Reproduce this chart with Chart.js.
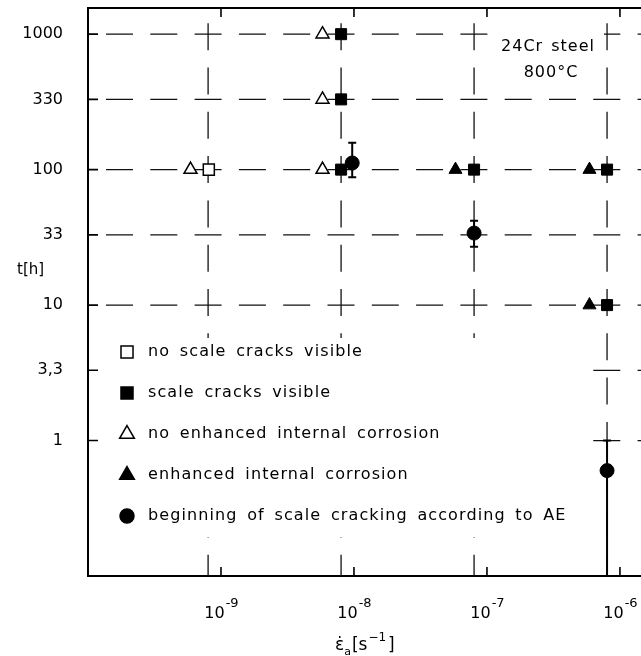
<!DOCTYPE html>
<html>
<head>
<meta charset="utf-8">
<title>24Cr steel 800°C - scale cracking</title>
<script src="https://cdn.jsdelivr.net/npm/chart.js@4.4.0/dist/chart.umd.min.js"></script>
<style>
    html, body { margin: 0; padding: 0; background: #fff; }
    #chart { display: block; }
</style>
</head>
<body>
<canvas id="chart" width="641" height="656"></canvas>
<script>
    // values: strain rate [1/s] and time [h]
    var openSquareX = [8.1e-10];
    var openSquareY = [100];
    var fullSquareX = [8e-9, 8e-9, 8e-9, 8e-8, 8e-7, 8e-7];
    var fullSquareY = [1000, 330, 100, 100, 100, 10];
    var openTriX = [5.9e-10, 5.8e-9, 5.8e-9, 5.8e-9];
    var openTriY = [100, 1000, 330, 100];
    var fullTriX = [5.8e-8, 5.9e-7, 5.9e-7];
    var fullTriY = [100, 100, 10];
    var aeX = [9.7e-9, 8e-8, 8e-7];
    var aeY = [112, 34, 0.6];
    var aeLow = [88, 27, 0.1];
    var aeHigh = [158, 42, 1];

    var yTicks = [1, 3.3, 10, 33, 100, 330, 1000];
    var yTickLabels = ['1', '3,3', '10', '33', '100', '330', '1000'];
    var xTicks = [1e-9, 1e-8, 1e-7, 1e-6];
    var xTickExp = ['-9', '-8', '-7', '-6'];
    var xGrid = [8e-10, 8e-9, 8e-8, 8e-7];
    var yGrid = [1000, 330, 100, 33, 10, 3.3, 1];

    var legendLabels = [
        'no scale cracks visible',
        'scale cracks visible',
        'no enhanced internal corrosion',
        'enhanced internal corrosion',
        'beginning of scale cracking according to AE'
    ];
    var legendStyles = ['rect', 'rect', 'triangle', 'triangle', 'circle'];
    var legendFilled = [false, true, false, true, true];

    function pts(xs, ys) {
        return xs.map(function (x, i) { return { x: x, y: ys[i] }; });
    }

    function drawMark(ctx, style, filled, x, y, r) {
        ctx.beginPath();
        if (style === 'rect') {
            var s = r * Math.SQRT1_2;
            ctx.rect(x - s, y - s, 2 * s, 2 * s);
        } else if (style === 'triangle') {
            ctx.moveTo(x, y - r);
            ctx.lineTo(x + 0.866 * r, y + 0.5 * r);
            ctx.lineTo(x - 0.866 * r, y + 0.5 * r);
            ctx.closePath();
        } else {
            ctx.arc(x, y, r, 0, Math.PI * 2);
        }
        ctx.fillStyle = filled ? '#000' : '#fff';
        ctx.fill();
        ctx.stroke();
    }

    var paperPlugin = {
        id: 'paper',
        beforeDatasetsDraw: function (chart) {
            var ctx = chart.ctx, a = chart.chartArea;
            var xs = chart.scales.x, ys = chart.scales.y;
            ctx.save();
            ctx.strokeStyle = '#111';
            ctx.lineWidth = 1.3;

            // dashed grid, dashes centred on the crossings
            var P = 44.3, D = 27;
            ctx.setLineDash([D, P - D]);
            var s0 = xs.getPixelForValue(xGrid[0]) - D / 2 - a.left;
            ctx.lineDashOffset = P - (((s0 % P) + P) % P);
            yGrid.forEach(function (v) {
                var py = ys.getPixelForValue(v);
                ctx.beginPath();
                ctx.moveTo(a.left, py);
                ctx.lineTo(a.right, py);
                ctx.stroke();
            });
            var t0 = ys.getPixelForValue(100) - D / 2 - a.top;
            ctx.lineDashOffset = P - (((t0 % P) + P) % P);
            xGrid.forEach(function (v) {
                var px = xs.getPixelForValue(v);
                ctx.beginPath();
                ctx.moveTo(px, a.top);
                ctx.lineTo(px, a.bottom);
                ctx.stroke();
            });
            ctx.setLineDash([]);

            // white boxes behind legend and label
            ctx.fillStyle = '#fff';
            ctx.fillRect(a.left + 1.5, 338, 578 - a.left - 1.5, 537 - 338);
            ctx.fillRect(488, 27, 116, 62);

            ctx.fillStyle = '#000';
            ctx.font = '16px "DejaVu Sans"';
            ctx.letterSpacing = '1px';
            ctx.wordSpacing = '2px';
            ctx.textAlign = 'center';
            ctx.textBaseline = 'middle';
            ctx.fillText('24Cr steel', 548, 47);
            ctx.fillText('800°C', 551, 73);

            // legend
            ctx.textAlign = 'left';
            ctx.letterSpacing = '1.1px';
            ctx.wordSpacing = '3.5px';
            ctx.lineWidth = 1.5;
            ctx.strokeStyle = '#000';
            legendLabels.forEach(function (txt, i) {
                var ly = 352 + i * 41;
                drawMark(ctx, legendStyles[i], legendFilled[i], 127, ly, legendStyles[i] === 'circle' ? 7 : 8.5);
                ctx.fillStyle = '#000';
                ctx.fillText(txt, 148, ly);
            });
            ctx.letterSpacing = '0px';
            ctx.wordSpacing = '0px';

            // error bars of the AE points
            ctx.lineWidth = 2;
            aeX.forEach(function (v, i) {
                var px = xs.getPixelForValue(v);
                var top = ys.getPixelForValue(aeHigh[i]);
                var bot = ys.getPixelForValue(aeLow[i]);
                ctx.beginPath();
                ctx.moveTo(px, top);
                ctx.lineTo(px, bot);
                ctx.moveTo(px - 4, top);
                ctx.lineTo(px + 4, top);
                if (aeLow[i] > ys.min) {
                    ctx.moveTo(px - 4, bot);
                    ctx.lineTo(px + 4, bot);
                }
                ctx.stroke();
            });
            ctx.restore();
        },
        afterDraw: function (chart) {
            var ctx = chart.ctx, a = chart.chartArea;
            var xs = chart.scales.x, ys = chart.scales.y;
            ctx.save();
            ctx.strokeStyle = '#000';

            // top frame line
            ctx.lineWidth = 2;
            ctx.beginPath();
            ctx.moveTo(a.left - 1, a.top);
            ctx.lineTo(a.right, a.top);
            ctx.stroke();

            ctx.lineWidth = 1.6;
            ctx.beginPath();
            xTicks.forEach(function (v) {
                var px = xs.getPixelForValue(v);
                ctx.moveTo(px, a.bottom);
                ctx.lineTo(px, a.bottom - 9);
                ctx.moveTo(px, a.top);
                ctx.lineTo(px, a.top + 9);
            });
            yTicks.forEach(function (v) {
                var py = ys.getPixelForValue(v);
                ctx.moveTo(a.left, py);
                ctx.lineTo(a.left + 10, py);
            });
            ctx.stroke();

            // x tick labels 10^n
            ctx.fillStyle = '#000';
            ctx.textBaseline = 'alphabetic';
            ctx.textAlign = 'left';
            xTicks.forEach(function (v, i) {
                var px = xs.getPixelForValue(v);
                ctx.font = '16px "DejaVu Sans"';
                var w1 = ctx.measureText('10').width;
                ctx.font = '13px "DejaVu Sans"';
                var w2 = ctx.measureText(xTickExp[i]).width;
                var x0 = px - (w1 + w2) / 2;
                ctx.font = '16px "DejaVu Sans"';
                ctx.fillText('10', x0, 618);
                ctx.font = '13px "DejaVu Sans"';
                ctx.fillText(xTickExp[i], x0 + w1 + 1, 607);
            });

            // axis titles
            ctx.font = '15px "DejaVu Sans"';
            ctx.textBaseline = 'middle';
            ctx.fillText('t[h]', 17, 270);

            ctx.textBaseline = 'alphabetic';
            var x = 335;
            ctx.font = '17px "DejaVu Sans"';
            ctx.fillText('\u03B5\u0307', x, 650);
            x += ctx.measureText('\u03B5').width;
            ctx.font = '11px "DejaVu Sans"';
            ctx.fillText('a', x, 655);
            x += ctx.measureText('a').width + 1;
            ctx.font = '17px "DejaVu Sans"';
            ctx.fillText('[s', x, 650);
            x += ctx.measureText('[s').width + 1;
            ctx.font = '12px "DejaVu Sans"';
            ctx.fillText('\u22121', x, 641);
            x += ctx.measureText('\u22121').width + 2;
            ctx.font = '17px "DejaVu Sans"';
            ctx.fillText(']', x, 650);
            ctx.restore();
        }
    };

    Chart.defaults.font.family = '"DejaVu Sans"';
    Chart.defaults.color = '#000';

    var xMin = 1e-10, xMax = 1.44e-6;
    var yMin = 0.1, yMax = 1560;

    new Chart(document.getElementById('chart'), {
        type: 'scatter',
        data: {
            datasets: [
                { label: legendLabels[4], data: pts(aeX, aeY), pointStyle: 'circle', pointRadius: 7,
                  backgroundColor: '#000', borderColor: '#000', borderWidth: 1 },
                { label: legendLabels[0], data: pts(openSquareX, openSquareY), pointStyle: 'rect', pointRadius: 7.8,
                  backgroundColor: '#fff', borderColor: '#000', borderWidth: 1.5 },
                { label: legendLabels[1], data: pts(fullSquareX, fullSquareY), pointStyle: 'rect', pointRadius: 7.8,
                  backgroundColor: '#000', borderColor: '#000', borderWidth: 1 },
                { label: legendLabels[2], data: pts(openTriX, openTriY), pointStyle: 'triangle', pointRadius: 7.5,
                  backgroundColor: '#fff', borderColor: '#000', borderWidth: 1.5 },
                { label: legendLabels[3], data: pts(fullTriX, fullTriY), pointStyle: 'triangle', pointRadius: 7.5,
                  backgroundColor: '#000', borderColor: '#000', borderWidth: 1 }
            ]
        },
        options: {
            responsive: false,
            devicePixelRatio: 1,
            animation: false,
            events: [],
            layout: { autoPadding: false, padding: { top: 8, left: 0, right: 0, bottom: 0 } },
            plugins: { legend: { display: false }, tooltip: { enabled: false } },
            scales: {
                x: {
                    type: 'logarithmic', position: 'bottom', min: xMin, max: xMax,
                    grid: { display: false, drawTicks: false },
                    border: { display: true, color: '#000', width: 2 },
                    ticks: { display: false },
                    afterFit: function (s) { s.height = 80; }
                },
                y: {
                    type: 'logarithmic', position: 'left', min: yMin, max: yMax,
                    grid: { display: false, drawTicks: false },
                    border: { display: true, color: '#000', width: 2 },
                    afterBuildTicks: function (s) {
                        s.ticks = yTicks.map(function (v) { return { value: v }; });
                    },
                    ticks: {
                        padding: 25,
                        autoSkip: false,
                        font: { size: 16 },
                        callback: function (value, index) { return yTickLabels[index]; }
                    },
                    afterFit: function (s) {
                        s.width = 88;
                        s.paddingTop = 0;
                        s.paddingBottom = 0;
                    }
                }
            }
        },
        plugins: [paperPlugin]
    });
</script>
</body>
</html>
